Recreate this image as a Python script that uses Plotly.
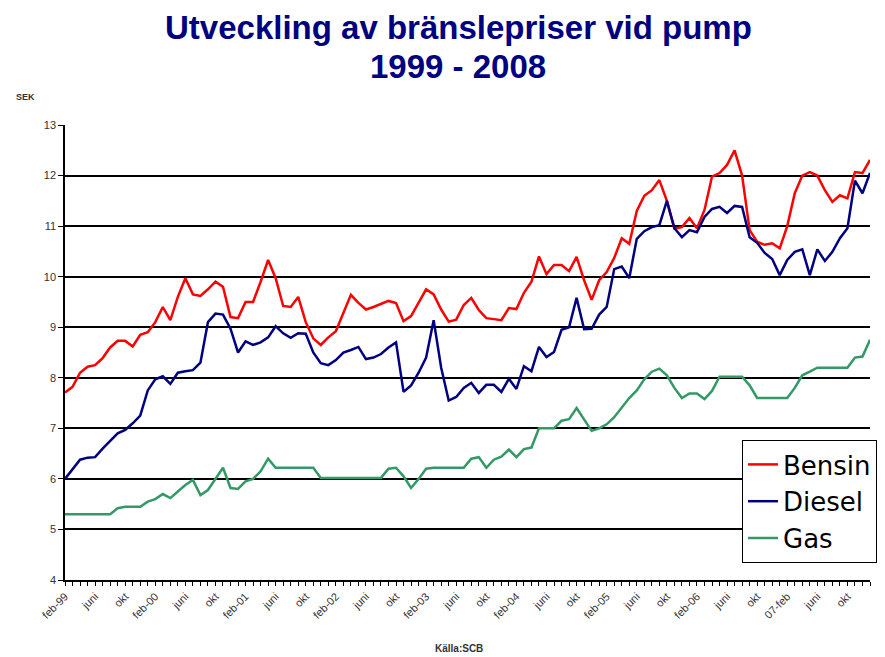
import plotly.graph_objects as go

# Month labels (feb-99 ... jan-08), labels shown every 4th month
tick_labels = ["feb-99", "juni", "okt", "feb-00", "juni", "okt", "feb-01", "juni", "okt",
               "feb-02", "juni", "okt", "feb-03", "juni", "okt", "feb-04", "juni", "okt",
               "feb-05", "juni", "okt", "feb-06", "juni", "okt", "07-feb", "juni", "okt"]

bensin = [7.71, 7.82, 8.10, 8.22, 8.25, 8.39, 8.60, 8.73, 8.73, 8.62,
          8.85, 8.90, 9.10, 9.40, 9.14, 9.60, 9.97, 9.65, 9.62, 9.75,
          9.90, 9.80, 9.20, 9.18, 9.50, 9.50, 9.90, 10.33, 9.97, 9.42,
          9.40, 9.60, 9.10, 8.78, 8.65, 8.80, 8.92, 9.30, 9.64, 9.48,
          9.35, 9.40, 9.46, 9.52, 9.48, 9.12, 9.22, 9.50, 9.75, 9.65,
          9.35, 9.11, 9.15, 9.44, 9.58, 9.34, 9.18, 9.16, 9.14, 9.38,
          9.36, 9.68, 9.90, 10.40, 10.05, 10.23, 10.23, 10.11, 10.39, 9.93,
          9.54, 9.93, 10.09, 10.37, 10.76, 10.65, 11.30, 11.60, 11.71, 11.91,
          11.50, 10.95, 10.98, 11.16, 10.96, 11.32, 11.98, 12.05, 12.21, 12.50,
          12.00, 10.92, 10.69, 10.63, 10.66, 10.56, 11.00, 11.65, 12.00, 12.07,
          12.00, 11.71, 11.48, 11.61, 11.55, 12.07, 12.05, 12.31]

diesel = [6.00, 6.20, 6.38, 6.42, 6.43, 6.60, 6.75, 6.90, 6.97, 7.10,
          7.25, 7.75, 7.97, 8.03, 7.88, 8.10, 8.13, 8.15, 8.30, 9.10,
          9.27, 9.25, 8.97, 8.50, 8.72, 8.65, 8.70, 8.80, 9.02, 8.88,
          8.79, 8.88, 8.87, 8.50, 8.29, 8.25, 8.35, 8.50, 8.55, 8.61,
          8.37, 8.40, 8.47, 8.60, 8.70, 7.72, 7.85, 8.10, 8.40, 9.14,
          8.20, 7.55, 7.62, 7.80, 7.90, 7.70, 7.86, 7.86, 7.72, 7.98,
          7.78, 8.23, 8.13, 8.61, 8.41, 8.51, 8.95, 9.00, 9.58, 8.96,
          8.97, 9.25, 9.40, 10.15, 10.20, 9.97, 10.75, 10.90, 10.98, 11.02,
          11.50, 10.96, 10.78, 10.92, 10.88, 11.18, 11.34, 11.38, 11.26, 11.40,
          11.38, 10.78, 10.67, 10.47, 10.35, 10.03, 10.33, 10.49, 10.54, 10.03,
          10.54, 10.31, 10.49, 10.76, 10.96, 11.90, 11.65, 12.05]

gas = [5.30, 5.30, 5.30, 5.30, 5.30, 5.30, 5.30, 5.42, 5.45, 5.45,
       5.45, 5.55, 5.60, 5.70, 5.62, 5.75, 5.88, 5.98, 5.68, 5.78,
       6.00, 6.22, 5.82, 5.80, 5.95, 6.00, 6.15, 6.40, 6.22, 6.22,
       6.22, 6.22, 6.22, 6.22, 6.02, 6.02, 6.02, 6.02, 6.02, 6.02,
       6.02, 6.02, 6.02, 6.20, 6.22, 6.05, 5.82, 6.00, 6.20, 6.22,
       6.22, 6.22, 6.22, 6.22, 6.40, 6.43, 6.22, 6.38, 6.44, 6.58,
       6.43, 6.59, 6.62, 7.00, 7.00, 7.00, 7.15, 7.18, 7.40, 7.18,
       6.95, 7.00, 7.08, 7.22, 7.40, 7.60, 7.75, 7.97, 8.12, 8.18,
       8.05, 7.80, 7.60, 7.69, 7.69, 7.58, 7.74, 8.02, 8.02, 8.02,
       8.02, 7.85, 7.60, 7.60, 7.60, 7.60, 7.60, 7.80, 8.05, 8.12,
       8.20, 8.20, 8.20, 8.20, 8.20, 8.40, 8.42, 8.75]

x = list(range(len(bensin)))
tick_vals = list(range(0, 4 * len(tick_labels), 4))

# plot area in pixels
L, R, T, B = 65, 15, 125, 77
W, H = 885, 657
pw, ph = W - L - R, H - T - B

def px_x(p):
    return (p - L) / pw

def px_y(p):
    return (H - B - p) / ph

fig = go.Figure()
series = [("Bensin", bensin, "#FF0000"), ("Diesel", diesel, "#000080"), ("Gas", gas, "#339966")]
for name, vals, col in series:
    fig.add_trace(go.Scatter(x=x, y=vals, mode="lines", name=name, legendgroup=name,
                             line=dict(color=col, width=2.5)))

fig.update_layout(
    width=W, height=H,
    margin=dict(l=L, r=R, t=T, b=B, autoexpand=False),
    paper_bgcolor="white", plot_bgcolor="white",
    font=dict(family="Liberation Sans", color="#333333"),
    showlegend=True,
    legend=dict(x=px_x(742), y=px_y(440), xanchor="left", yanchor="top",
                bgcolor="white", bordercolor="black", borderwidth=1,
                font=dict(family="DejaVu Sans", size=26, color="black"),
                traceorder="grouped", tracegroupgap=0, itemwidth=30),
    xaxis=dict(range=[0, len(bensin) - 1], tickmode="array", tickvals=tick_vals, ticktext=tick_labels,
               tickangle=-45, tickfont=dict(size=11, color="#333333"),
               ticks="outside", ticklen=4, tickcolor="black", tickwidth=1,
               minor=dict(ticks="outside", dtick=1, tick0=0, ticklen=4, tickcolor="black", tickwidth=1),
               showline=True, linecolor="black", linewidth=1.5, showgrid=False, zeroline=False),
    yaxis=dict(range=[4, 13], dtick=1, tick0=4, tickfont=dict(size=11, color="#333333"),
               ticks="outside", ticklen=5, tickcolor="black",
               showline=True, linecolor="black", linewidth=1.5,
               showgrid=True, gridcolor="black", gridwidth=1.5, zeroline=False),
    annotations=[
        dict(text="<b>Utveckling av bränslepriser vid pump</b>", xref="paper", yref="paper",
             x=px_x(458), y=px_y(27), xanchor="center", yanchor="middle", showarrow=False,
             font=dict(family="Liberation Sans", size=33, color="#000080")),
        dict(text="<b>1999 - 2008</b>", xref="paper", yref="paper",
             x=px_x(458), y=px_y(66), xanchor="center", yanchor="middle", showarrow=False,
             font=dict(family="Liberation Sans", size=33, color="#000080")),
        dict(text="<b>SEK</b>", xref="paper", yref="paper",
             x=px_x(25), y=px_y(97), xanchor="center", yanchor="middle", showarrow=False,
             font=dict(family="Liberation Sans", size=9, color="#333333")),
        dict(text="<b>Källa:SCB</b>", xref="paper", yref="paper",
             x=px_x(459), y=px_y(648), xanchor="center", yanchor="middle", showarrow=False,
             font=dict(family="Liberation Sans", size=10, color="#333333")),
    ],
)

fig.write_html("out.html", config={"displayModeBar": False},
               post_script="document.body.style.margin='0';document.body.style.overflow='hidden';")
